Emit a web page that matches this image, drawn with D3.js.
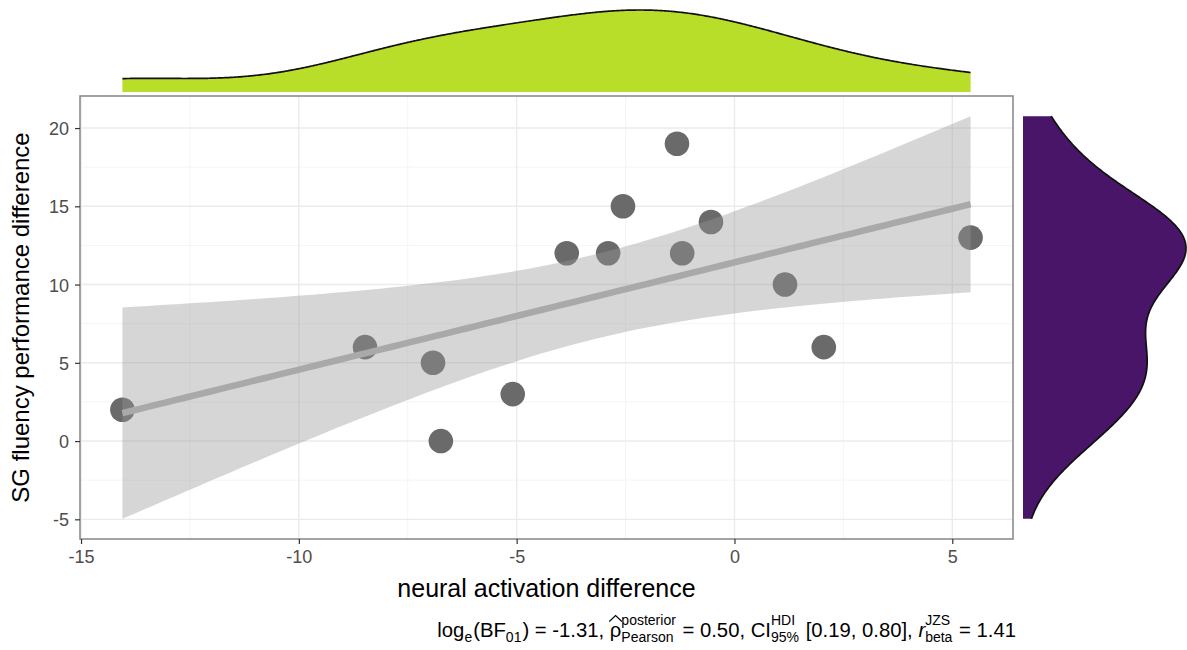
<!DOCTYPE html>
<html>
<head>
<meta charset="utf-8">
<script src="https://cdn.jsdelivr.net/npm/d3@7"></script>
<style>
  body { margin: 0; background: #fff; }
  svg { display: block; }
  text { font-family: "Liberation Sans", Arial, Helvetica, sans-serif; }
</style>
</head>
<body>
<svg id="chart" width="1187" height="650"></svg>
<script>
// Observations: neural activation difference vs SG fluency performance difference
const activation = [-14.05, -8.48, -6.92, -6.74, -5.09, -3.85, -2.90, -2.56, -1.32, -1.20, -0.54, 1.16, 2.05, 5.42];
const fluency    = [2, 6, 5, 0, 3, 12, 12, 15, 19, 12, 14, 10, 6, 13];

const xTicks = [-15, -10, -5, 0, 5];
const yTicks = [-5, 0, 5, 10, 15, 20];
const xMinor = [-12.5, -7.5, -2.5, 2.5];
const yMinor = [-2.5, 2.5, 7.5, 12.5, 17.5];

const xTitle = "neural activation difference";
const yTitle = "SG fluency performance difference";

// Student t quantile (0.975, df = n - 2 = 12) for the 95% confidence band
const tCrit = 2.178813;

const svg = d3.select("#chart");
const panel = { left: 80, right: 1013, top: 96, bottom: 539 };

const data = activation.map((x, i) => ({ x, y: fluency[i] }));
const n = data.length;

// ---- ordinary least squares fit with confidence band ----
const mx = d3.mean(activation), my = d3.mean(fluency);
const sxx = d3.sum(activation, x => (x - mx) ** 2);
const sxy = d3.sum(data, d => (d.x - mx) * (d.y - my));
const slope = sxy / sxx;
const intercept = my - slope * mx;
const sse = d3.sum(data, d => (d.y - intercept - slope * d.x) ** 2);
const sigma = Math.sqrt(sse / (n - 2));
const [xLo, xHi] = d3.extent(activation);
const band = d3.range(80).map(i => {
  const x = xLo + (xHi - xLo) * i / 79;
  const fit = intercept + slope * x;
  const se = sigma * Math.sqrt(1 / n + (x - mx) ** 2 / sxx);
  return { x, fit, lo: fit - tCrit * se, hi: fit + tCrit * se };
});

// scale ranges cover all layers, padded by 5% on each side
const yLo = Math.min(d3.min(fluency), d3.min(band, d => d.lo));
const yHi = Math.max(d3.max(fluency), d3.max(band, d => d.hi));
const pad = (lo, hi) => [lo - 0.05 * (hi - lo), hi + 0.05 * (hi - lo)];

const x = d3.scaleLinear().domain(pad(xLo, xHi)).range([panel.left, panel.right]);
const y = d3.scaleLinear().domain(pad(yLo, yHi)).range([panel.bottom, panel.top]);

// ---- grid ----
const grid = svg.append("g");
grid.selectAll(".gxm").data(xMinor).join("line")
  .attr("x1", d => x(d)).attr("x2", d => x(d))
  .attr("y1", panel.top).attr("y2", panel.bottom)
  .attr("stroke", "#f2f2f2").attr("stroke-width", 0.8);
grid.selectAll(".gym").data(yMinor).join("line")
  .attr("y1", d => y(d)).attr("y2", d => y(d))
  .attr("x1", panel.left).attr("x2", panel.right)
  .attr("stroke", "#f2f2f2").attr("stroke-width", 0.8);
grid.selectAll(".gx").data(xTicks).join("line")
  .attr("x1", d => x(d)).attr("x2", d => x(d))
  .attr("y1", panel.top).attr("y2", panel.bottom)
  .attr("stroke", "#ebebeb").attr("stroke-width", 1.4);
grid.selectAll(".gy").data(yTicks).join("line")
  .attr("y1", d => y(d)).attr("y2", d => y(d))
  .attr("x1", panel.left).attr("x2", panel.right)
  .attr("stroke", "#ebebeb").attr("stroke-width", 1.4);

// ---- points, then the smoother on top ----
svg.append("g").selectAll("circle").data(data).join("circle")
  .attr("cx", d => x(d.x)).attr("cy", d => y(d.y))
  .attr("r", 12.3).attr("fill", "#6a6a6a");

svg.append("path").datum(band)
  .attr("d", d3.area().x(d => x(d.x)).y0(d => y(d.lo)).y1(d => y(d.hi)))
  .attr("fill", "#999999").attr("fill-opacity", 0.4);

svg.append("path").datum(band)
  .attr("d", d3.line().x(d => x(d.x)).y(d => y(d.fit)))
  .attr("fill", "none").attr("stroke", "#a9a9a9").attr("stroke-width", 6.5);

// ---- panel border ----
svg.append("rect")
  .attr("x", panel.left).attr("y", panel.top)
  .attr("width", panel.right - panel.left).attr("height", panel.bottom - panel.top)
  .attr("fill", "none").attr("stroke", "#8c8c8c").attr("stroke-width", 1.6);

// ---- axes ----
const fmt = d => String(d);
const xAxis = svg.append("g").attr("transform", `translate(0,${panel.bottom})`)
  .call(d3.axisBottom(x).tickValues(xTicks).tickSize(5).tickPadding(6).tickFormat(fmt));
const yAxis = svg.append("g").attr("transform", `translate(${panel.left},0)`)
  .call(d3.axisLeft(y).tickValues(yTicks).tickSize(5).tickPadding(6).tickFormat(fmt));
[xAxis, yAxis].forEach(a => {
  a.select(".domain").remove();
  a.selectAll(".tick line").attr("stroke", "#333").attr("stroke-width", 1.2);
  a.selectAll(".tick text").attr("fill", "#4d4d4d").attr("font-size", 18)
    .style("font-family", '"Liberation Sans", Arial, sans-serif');
});
yAxis.selectAll(".tick text").attr("dy", "0.36em");

svg.append("text")
  .attr("x", (panel.left + panel.right) / 2).attr("y", 597)
  .attr("text-anchor", "middle").attr("font-size", 25).attr("fill", "#000")
  .text(xTitle);
svg.append("text")
  .attr("transform", `translate(29,${(panel.top + panel.bottom) / 2}) rotate(-90)`)
  .attr("text-anchor", "middle").attr("font-size", 24).attr("fill", "#000")
  .text(yTitle);

// ---- marginal densities (Gaussian kernel, nrd0 bandwidth) ----
function nrd0(v) {
  const s = [...v].sort(d3.ascending);
  const iqr = (d3.quantileSorted(s, 0.75) - d3.quantileSorted(s, 0.25)) / 1.34;
  return 0.9 * Math.min(d3.deviation(v), iqr) * Math.pow(v.length, -0.2);
}
function kde(v, lo, hi) {
  const bw = nrd0(v);
  return d3.range(512).map(i => {
    const t = lo + (hi - lo) * i / 511;
    const dens = d3.mean(v, u => Math.exp(-0.5 * ((t - u) / bw) ** 2)) / (bw * Math.sqrt(2 * Math.PI));
    return { t, dens };
  });
}

const topDens = kde(activation, xLo, xHi);
const topY = d3.scaleLinear().domain([0, d3.max(topDens, d => d.dens)]).range([92, 10]);
svg.append("path").datum(topDens)
  .attr("d", d3.area().x(d => x(d.t)).y0(topY(0)).y1(d => topY(d.dens)).curve(d3.curveBasis))
  .attr("fill", "#b8de29");
svg.append("path").datum(topDens)
  .attr("d", d3.line().x(d => x(d.t)).y(d => topY(d.dens)).curve(d3.curveBasis))
  .attr("fill", "none").attr("stroke", "#111").attr("stroke-width", 1.7);

const sideDens = kde(fluency, yLo, yHi);
const sideX = d3.scaleLinear().domain([0, d3.max(sideDens, d => d.dens)]).range([1023, 1186]);
svg.append("path").datum(sideDens)
  .attr("d", d3.area().y(d => y(d.t)).x0(sideX(0)).x1(d => sideX(d.dens)).curve(d3.curveBasis))
  .attr("fill", "#481568");
svg.append("path").datum(sideDens)
  .attr("d", d3.line().y(d => y(d.t)).x(d => sideX(d.dens)).curve(d3.curveBasis))
  .attr("fill", "none").attr("stroke", "#111").attr("stroke-width", 1.7);

// ---- statistical subtitle with stacked super/subscripts ----
const cap = svg.append("g");
let cur = 0;
const mainSize = 20.3, scriptSize = 14;
function put(str, opt = {}) {
  const t = cap.append("text")
    .attr("x", cur).attr("y", opt.dy || 0)
    .attr("font-size", opt.size || mainSize).attr("fill", "#000")
    .style("white-space", "pre").text(str);
  if (opt.italic) t.attr("font-style", "italic");
  const w = t.node().getComputedTextLength();
  if (!opt.hold) cur += w;
  return w;
}
function scripts(sup, sub) {
  const x0 = cur;
  let w1 = 0, w2 = 0;
  if (sup) { cur = x0; w1 = put(sup, { size: scriptSize, dy: -12.5, hold: true }); }
  if (sub) { cur = x0; w2 = put(sub, { size: scriptSize, dy: 5, hold: true }); }
  cur = x0 + Math.max(w1, w2) + 1;
}
put("log");
scripts(null, "e");
put("(BF");
scripts(null, "01");
put(") = -1.31, ");
const rhoX = cur;
const rhoW = put("ρ");
cap.append("path")
  .attr("d", `M${rhoX - 0.5},-15.5 L${rhoX + rhoW / 2},-21.5 L${rhoX + rhoW + 0.5},-15.5`)
  .attr("fill", "none").attr("stroke", "#000").attr("stroke-width", 1.1);
scripts("posterior", "Pearson");
put(" = 0.50, CI");
scripts("HDI", "95%");
put(" [0.19, 0.80], ");
put("r", { italic: true });
scripts("JZS", "beta");
put(" = 1.41");
cap.attr("transform", `translate(${1016 - cur},637)`);
</script>
</body>
</html>
